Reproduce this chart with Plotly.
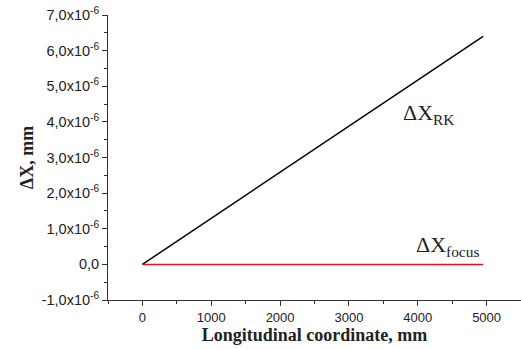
import plotly.graph_objects as go

x_vals = [0, 4950]
dx_rk = [0, 6.4e-6]
dx_focus = [0, 0]

y_ticks = [-1e-6, 0, 1e-6, 2e-6, 3e-6, 4e-6, 5e-6, 6e-6, 7e-6]
y_tick_text = ["-1,0x10<sup>-6</sup>", "0,0", "1,0x10<sup>-6</sup>", "2,0x10<sup>-6</sup>",
               "3,0x10<sup>-6</sup>", "4,0x10<sup>-6</sup>", "5,0x10<sup>-6</sup>",
               "6,0x10<sup>-6</sup>", "7,0x10<sup>-6</sup>"]
x_ticks = [0, 1000, 2000, 3000, 4000, 5000]

fig = go.Figure()
fig.add_trace(go.Scatter(x=x_vals, y=dx_rk, mode="lines", line=dict(color="black", width=1.5), showlegend=False))
fig.add_trace(go.Scatter(x=x_vals, y=dx_focus, mode="lines", line=dict(color="#e8101a", width=1.5), showlegend=False))

fig.add_annotation(x=3750, y=4.22e-6, text="ΔX<sub>RK</sub>", showarrow=False, xanchor="left", yanchor="middle",
                   font=dict(family="Liberation Serif", size=22, color="#222"))
fig.add_annotation(x=3940, y=0.52e-6, text="ΔX<sub>focus</sub>", showarrow=False, xanchor="left", yanchor="middle",
                   font=dict(family="Liberation Serif", size=22, color="#222"))

fig.update_layout(
    width=521, height=349,
    margin=dict(l=108, r=0, t=15, b=49),
    paper_bgcolor="white", plot_bgcolor="white",
    font=dict(family="Liberation Sans", color="#222"),
)
fig.update_xaxes(range=[-500, 5500], tickvals=x_ticks, ticks="outside", ticklen=5, tickcolor="#333",
                 showline=True, linecolor="#333", linewidth=1, showgrid=False, zeroline=False, automargin=False,
                 tickfont=dict(size=13, family="Liberation Sans"),
                 minor=dict(tickvals=[-500, 500, 1500, 2500, 3500, 4500, 5500], ticks="outside", ticklen=3, tickcolor="#333"),
                 title=dict(text="<b>Longitudinal coordinate, mm</b>", font=dict(family="Liberation Serif", size=18), standoff=3))
fig.update_yaxes(range=[-1e-6, 7e-6], tickvals=y_ticks, ticktext=y_tick_text, ticks="outside", ticklen=5, tickcolor="#333",
                 showline=True, linecolor="#333", linewidth=1, showgrid=False, zeroline=False, automargin=False,
                 tickfont=dict(size=14.5, family="Liberation Sans"),
                 minor=dict(tickvals=[-0.5e-6, 0.5e-6, 1.5e-6, 2.5e-6, 3.5e-6, 4.5e-6, 5.5e-6, 6.5e-6], ticks="outside", ticklen=3, tickcolor="#333"),
                 title=dict(text="<b>ΔX, mm</b>", font=dict(family="Liberation Serif", size=18), standoff=3))

fig.write_html("out.html", config={"displayModeBar": False},
               post_script="document.body.style.margin='0';document.body.style.overflow='hidden';")
